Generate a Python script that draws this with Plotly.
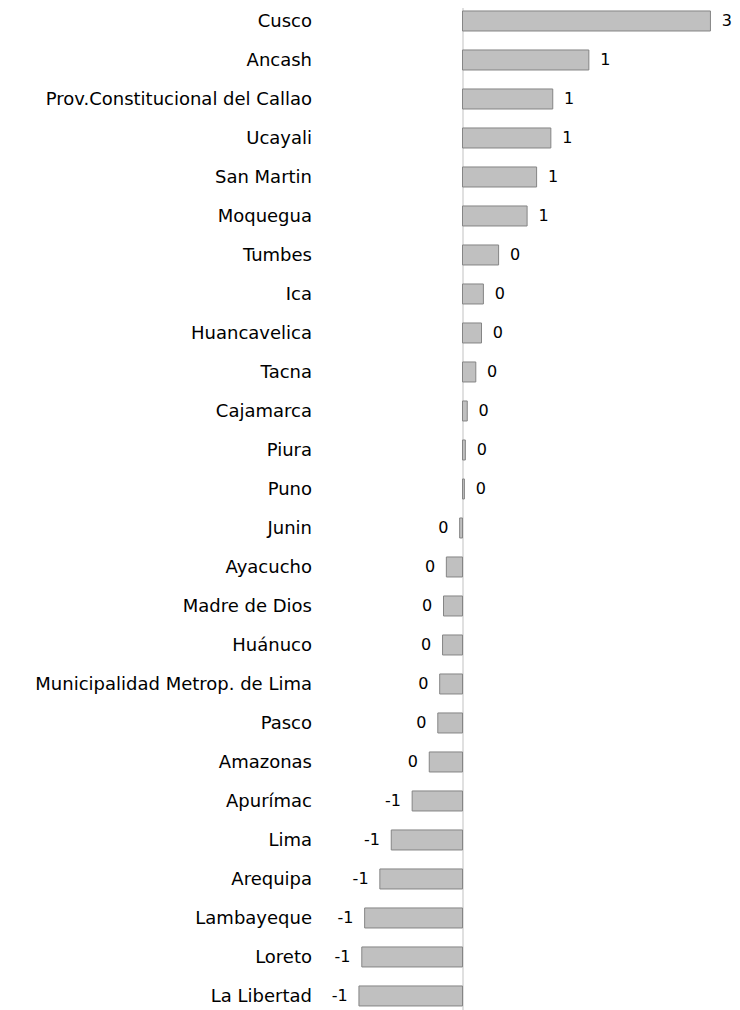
import plotly.graph_objects as go

# Regions, top to bottom
regions = [
    "Cusco", "Ancash", "Prov.Constitucional del Callao", "Ucayali", "San Martin",
    "Moquegua", "Tumbes", "Ica", "Huancavelica", "Tacna", "Cajamarca", "Piura",
    "Puno", "Junin", "Ayacucho", "Madre de Dios", "Huánuco",
    "Municipalidad Metrop. de Lima", "Pasco", "Amazonas", "Apurímac", "Lima",
    "Arequipa", "Lambayeque", "Loreto", "La Libertad",
]
values = [
    2.61, 1.33, 0.95, 0.93, 0.78,
    0.68, 0.38, 0.22, 0.20, 0.14, 0.05, 0.03,
    0.02, -0.03, -0.17, -0.20, -0.21,
    -0.24, -0.26, -0.35, -0.53, -0.75,
    -0.87, -1.03, -1.06, -1.09,
]

pad = "\u00a0\u2009"
labels = []
for v in values:
    r = str(int(round(v)))
    labels.append(pad + r if v >= 0 else r + pad)

fig = go.Figure(go.Bar(
    y=regions,
    x=values,
    orientation="h",
    text=labels,
    textposition="outside",
    cliponaxis=False,
    textfont=dict(size=16, color="#000000", family="DejaVu Sans, sans-serif"),
    marker=dict(color="#c0c0c0", line=dict(color="#858585", width=1)),
    hoverinfo="skip",
))

# page has an 8px body margin, so the figure is a bit smaller than the window
fig.update_layout(
    width=732,
    height=1002,
    margin=dict(l=313, r=0, t=0, b=0),
    paper_bgcolor="white",
    plot_bgcolor="white",
    bargap=0.487,
    showlegend=False,
    font=dict(family="DejaVu Sans, sans-serif", color="#000000"),
    xaxis=dict(
        range=[-1.4895, -1.4895 + 419 / 95],
        showticklabels=False,
        showgrid=False,
        zeroline=True,
        zerolinecolor="#e0e0e0",
        zerolinewidth=2,
        showline=False,
        ticks="",
    ),
    yaxis=dict(
        type="category",
        range=[25.36, -0.333],
        showgrid=False,
        showline=False,
        zeroline=False,
        ticks="",
        ticklabelstandoff=8,
        tickfont=dict(size=18, color="#000000"),
    ),
)

fig.write_html("out.html")
